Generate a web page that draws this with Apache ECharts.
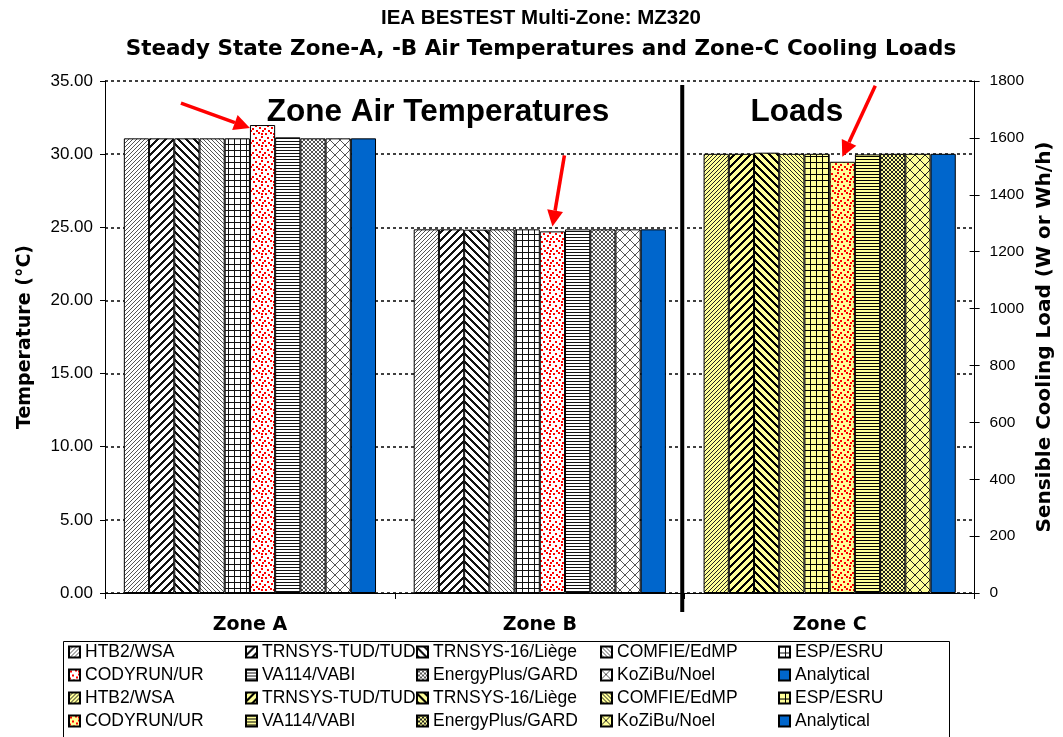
<!DOCTYPE html>
<html>
<head>
<meta charset="utf-8">
<script src="https://cdn.jsdelivr.net/npm/echarts@6/dist/echarts.min.js"></script>
<style>html,body{margin:0;padding:0;background:#fff;}#c{width:1063px;height:737px;}</style>
</head>
<body>
<div id="c"></div>
<script>
const categories = ['Zone A', 'Zone B', 'Zone C'];
const models = ['HTB2/WSA', 'TRNSYS-TUD/TUD', 'TRNSYS-16/Liège', 'COMFIE/EdMP', 'ESP/ESRU',
                'CODYRUN/UR', 'VA114/VABI', 'EnergyPlus/GARD', 'KoZiBu/Noel', 'Analytical'];
const zoneATemp = [31.08, 31.08, 31.08, 31.08, 31.08, 31.99, 31.15, 31.08, 31.08, 31.08];
const zoneBTemp = [24.86, 24.86, 24.84, 24.86, 24.86, 24.72, 24.86, 24.86, 24.86, 24.86];
const zoneCLoad = [1544, 1544, 1548, 1544, 1544, 1516, 1542, 1544, 1544, 1544];
const tempAxis = { min: 0, max: 35, interval: 5 };
const loadAxis = { min: 0, max: 1800, interval: 200 };
const LOAD_SUFFIX = ' (C)';

const FONT = "'Liberation Sans', Arial, sans-serif";
const WIDE = "'DejaVu Sans', sans-serif";

function tile(size, bg, draw) {
  const c = document.createElement('canvas');
  c.width = size; c.height = size;
  const ctx = c.getContext('2d');
  ctx.fillStyle = bg; ctx.fillRect(0, 0, size, size);
  draw(ctx, size);
  return { image: c, repeat: 'repeat' };
}
function px(ctx, x, y, s) { ctx.fillRect(((x % s) + s) % s, ((y % s) + s) % s, 1, 1); }

function makePatterns(bg, fg, fgLight) {
  return [
    tile(4, bg, (c, s) => { c.fillStyle = fgLight; for (let i = 0; i < s; i++) px(c, i, s - 1 - i, s); }),
    tile(8, bg, (c, s) => { c.fillStyle = fg; for (let i = 0; i < s; i++) for (let t = 0; t < 3; t++) px(c, i, s - 1 - i + t, s); }),
    tile(8, bg, (c, s) => { c.fillStyle = fg; for (let i = 0; i < s; i++) for (let t = 0; t < 3; t++) px(c, i, i + t, s); }),
    tile(4, bg, (c, s) => { c.fillStyle = fgLight; for (let i = 0; i < s; i++) px(c, i, i, s); }),
    tile(6, bg, (c, s) => { c.fillStyle = fg; c.fillRect(0, 0, s, 1); c.fillRect(0, 0, 1, s); }),
    tile(12, bg, (c, s) => {
      c.fillStyle = '#ff0000';
      [[1,1],[6,0],[9,4],[3,5],[0,8],[7,7],[10,10],[4,10],[9,1]].forEach(p => c.fillRect(p[0], p[1], 2, 2));
    }),
    tile(3, bg, (c, s) => { c.fillStyle = fg; c.fillRect(0, 0, s, 1); }),
    tile(4, bg, (c, s) => { c.fillStyle = fgLight; for (let i = 0; i < s; i++) { px(c, i, i, s); px(c, i, s - 1 - i, s); } }),
    tile(10, bg, (c, s) => { c.fillStyle = fgLight; for (let i = 0; i < s; i++) { px(c, i, i, s); px(c, i, s - 1 - i, s); } }),
    '#0066cc'
  ];
}
const tempPatterns = makePatterns('#ffffff', '#111111', '#555555');
const loadPatterns = makePatterns('#ffff99', '#000000', '#222222');

const series = [];
models.forEach((m, i) => {
  series.push({
    name: m, type: 'bar', xAxisIndex: 0, yAxisIndex: 0,
    data: [zoneATemp[i], zoneBTemp[i], '-'],
    barGap: '0%', barCategoryGap: '13%',
    itemStyle: { color: tempPatterns[i], borderColor: '#000', borderWidth: 1 }
  });
});
models.forEach((m, i) => {
  series.push({
    name: m + LOAD_SUFFIX, type: 'bar', xAxisIndex: 1, yAxisIndex: 1,
    data: ['-', '-', zoneCLoad[i]],
    barGap: '0%', barCategoryGap: '13%',
    itemStyle: { color: loadPatterns[i], borderColor: '#000', borderWidth: 1 }
  });
});

const colX = [68, 245, 416, 600, 778];
const legends = colX.map((x, j) => ({
  orient: 'vertical', left: x, top: 643, padding: 0,
  itemWidth: 11, itemHeight: 11, itemGap: 5, icon: 'rect', selectedMode: false,
  data: [models[j], models[j + 5], models[j] + LOAD_SUFFIX, models[j + 5] + LOAD_SUFFIX],
  formatter: n => n.replace(LOAD_SUFFIX, ''),
  textStyle: { fontSize: 17.5, color: '#000', fontFamily: FONT, lineHeight: 18 }
}));

const chart = echarts.init(document.getElementById('c'), null, { renderer: 'canvas' });
chart.setOption({
  animation: false,
  backgroundColor: '#fff',
  title: {
    text: 'IEA BESTEST Multi-Zone: MZ320',
    subtext: 'Steady State Zone-A, -B Air Temperatures and Zone-C Cooling Loads',
    left: 541, top: 6, textAlign: 'center', itemGap: 7, padding: 0,
    textStyle: { fontSize: 20.5, fontWeight: 'bold', color: '#000', lineHeight: 24, fontFamily: FONT },
    subtextStyle: { fontSize: 21.5, fontWeight: 'bold', color: '#000', lineHeight: 24, fontFamily: WIDE }
  },
  grid: { left: 105, right: 87, top: 81, bottom: 144 },
  legend: legends,
  xAxis: [
    {
      type: 'category', data: categories, position: 'bottom',
      axisLine: { lineStyle: { color: '#000', width: 1 } },
      axisTick: { show: true, length: 6, lineStyle: { color: '#000' } },
      axisLabel: { fontSize: 19, fontWeight: 'bold', color: '#000', margin: 23, fontFamily: WIDE }
    },
    { type: 'category', data: categories, position: 'bottom', show: false }
  ],
  yAxis: [
    {
      type: 'value', position: 'left', min: tempAxis.min, max: tempAxis.max, interval: tempAxis.interval,
      name: 'Temperature (°C)', nameLocation: 'middle', nameGap: 70,
      nameTextStyle: { fontSize: 19, fontWeight: 'bold', color: '#000', fontFamily: WIDE },
      axisLine: { show: true, lineStyle: { color: '#000' } },
      axisTick: { show: true, length: 5, lineStyle: { color: '#000' } },
      axisLabel: { formatter: v => v.toFixed(2), fontSize: 17, color: '#000', margin: 12, fontFamily: FONT },
      splitLine: { show: true, lineStyle: { color: '#000', type: [3, 3], width: 1.5 } }
    },
    {
      type: 'value', position: 'right', min: loadAxis.min, max: loadAxis.max, interval: loadAxis.interval,
      name: 'Sensible Cooling Load (W or Wh/h)', nameLocation: 'middle', nameGap: 58,
      nameTextStyle: { fontSize: 20, fontWeight: 'bold', color: '#000', fontFamily: WIDE },
      axisLine: { show: true, lineStyle: { color: '#000' } },
      axisTick: { show: true, length: 5, lineStyle: { color: '#000' } },
      axisLabel: { formatter: v => String(v), fontSize: 15.5, color: '#000', margin: 15, fontFamily: FONT },
      splitLine: { show: false }
    },
    {
      type: 'value', position: 'right', min: loadAxis.min, max: loadAxis.max, interval: loadAxis.interval,
      axisLine: { show: false },
      axisTick: { show: true, inside: true, length: 5, lineStyle: { color: '#000' } },
      axisLabel: { show: false }, splitLine: { show: false }
    }
  ],
  series: series
});

// annotations positioned from the chart's own scales
function arrowEls(tip, dx, dy) {
  const len = Math.hypot(dx, dy), ux = dx / len, uy = dy / len;
  const headL = 16, headW = 8;
  const bx = tip[0] - ux * headL, by = tip[1] - uy * headL;
  return [
    { type: 'line', shape: { x1: tip[0] - dx, y1: tip[1] - dy, x2: bx, y2: by }, style: { stroke: '#ff0000', lineWidth: 3.5 }, z: 100 },
    { type: 'polygon', shape: { points: [[tip[0], tip[1]], [bx - uy * headW, by + ux * headW], [bx + uy * headW, by - ux * headW]] }, style: { fill: '#ff0000' }, z: 100 }
  ];
}
const cA = chart.convertToPixel({ xAxisIndex: 0 }, 'Zone A');
const cB = chart.convertToPixel({ xAxisIndex: 0 }, 'Zone B');
const cC = chart.convertToPixel({ xAxisIndex: 0 }, 'Zone C');
const band = cB - cA;
const bw = band * 0.87 / 10;
const yA = chart.convertToPixel({ yAxisIndex: 0 }, zoneATemp[5]);
const yB = chart.convertToPixel({ yAxisIndex: 0 }, zoneBTemp[5]);
const yC = chart.convertToPixel({ yAxisIndex: 1 }, zoneCLoad[5]);
const yTop = chart.convertToPixel({ yAxisIndex: 0 }, tempAxis.max);
const y0 = chart.convertToPixel({ yAxisIndex: 0 }, 0);
const divX = (cB + cC) / 2 - 2.5;

chart.setOption({
  graphic: [
    { type: 'text', x: 438, y: 112, style: { text: 'Zone Air Temperatures', font: "bold 31.5px 'Liberation Sans', Arial", fill: '#000', textAlign: 'center', textVerticalAlign: 'middle' }, z: 90 },
    { type: 'text', x: 797, y: 112, style: { text: 'Loads', font: "bold 31.5px 'Liberation Sans', Arial", fill: '#000', textAlign: 'center', textVerticalAlign: 'middle' }, z: 90 },
    { type: 'line', shape: { x1: divX, y1: yTop + 4, x2: divX, y2: y0 + 19 }, style: { stroke: '#000', lineWidth: 4 }, z: 95 },
    { type: 'rect', shape: { x: 63.5, y: 641.5, width: 886, height: 110 }, style: { fill: 'none', stroke: '#000', lineWidth: 1 }, z: 1 },
    ...arrowEls([cA, yA + 3], 69, 25),
    ...arrowEls([cB + bw / 2, yB - 5], -12, 71),
    ...arrowEls([cC + bw / 2, yC - 5], -33, 71)
  ]
});
</script>
</body>
</html>
